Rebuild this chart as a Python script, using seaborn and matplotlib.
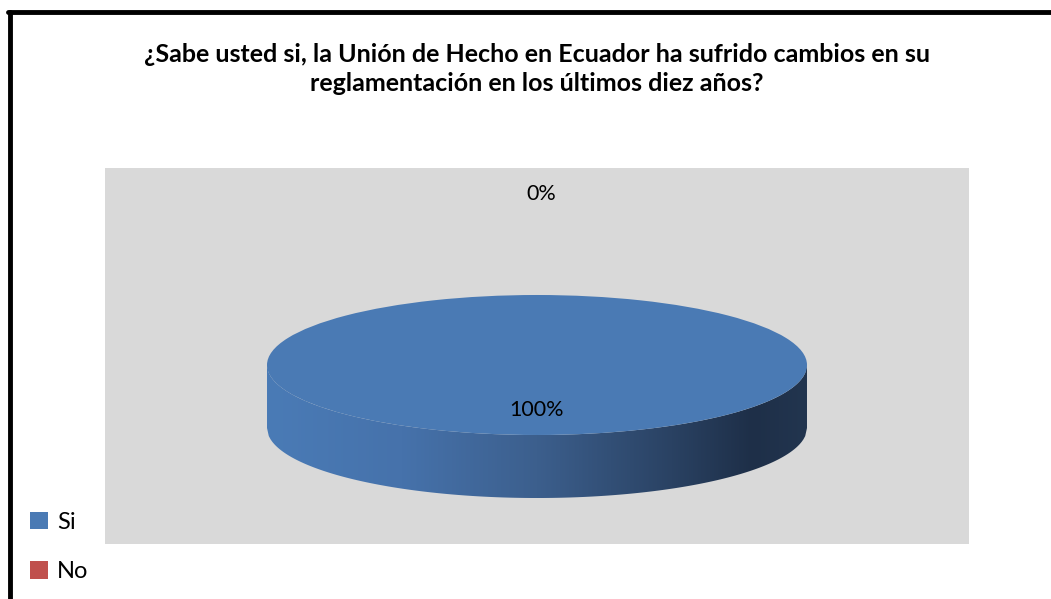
import numpy as np
import matplotlib
matplotlib.use("Agg")
import matplotlib.pyplot as plt
from matplotlib.lines import Line2D
from matplotlib.colors import LinearSegmentedColormap
from matplotlib.patches import Polygon
import seaborn as sns

# data
categories = ["Si", "No"]
values = [100, 0]
colors = ["#4a7ab4", "#c0504d"]
title = "¿Sabe usted si, la Unión de Hecho en Ecuador ha sufrido cambios en su\nreglamentación en los últimos diez años?"

sns.set_theme(style="white")
plt.rcParams["font.family"] = ["Lato", "DejaVu Sans"]
plt.rcParams["text.color"] = "black"

fig = plt.figure(figsize=(10.51, 5.99), dpi=100)
W, H = 1051, 599

# plot area (gray box) in pixels
left, right, top, bottom = 105, 969, 168, 544
ax = fig.add_axes([left / W, 1 - bottom / H, (right - left) / W, (bottom - top) / H])

wedges, _ = ax.pie(values, colors=colors, startangle=90, counterclock=False,
                   radius=1, frame=True, wedgeprops=dict(linewidth=0, zorder=3))
ax.set_aspect("auto")
ax.set_facecolor("#d9d9d9")
ax.set_xticks([])
ax.set_yticks([])
for s in ax.spines.values():
    s.set_visible(False)

# side of the cylinder with gradient
depth = 0.9
xs = np.linspace(-1, 1, 300)
top_edge = -np.sqrt(1 - xs ** 2)
poly_pts = np.concatenate([np.column_stack([xs, top_edge]),
                           np.column_stack([xs[::-1], top_edge[::-1] - depth])])
side = Polygon(poly_pts, closed=True, facecolor="none", edgecolor="none", zorder=2)
ax.add_patch(side)
grad = LinearSegmentedColormap.from_list(
    "side", [(0, "#4a7bb6"), (0.25, "#4672ab"), (0.5, "#3c5f8d"),
             (0.75, "#2a4263"), (0.9, "#1e2f48"), (1, "#22354f")])
img = ax.imshow(np.linspace(0, 1, 256).reshape(1, -1), cmap=grad, aspect="auto",
                extent=[-1, 1, -1 - depth, 0], zorder=2)
img.set_clip_path(side)
ax.set_xlim(-1.6, 1.6)
ax.set_ylim(-2.557, 2.814)

# data labels
total = sum(values)
ax.text(0, -0.64, f"{values[0] / total:.0%}", ha="center", va="center", fontsize=15.5, zorder=5)
ax.text(0.015, 2.44, f"{values[1] / total:.0%}", ha="center", va="center", fontsize=15.5, zorder=5)

# title
fig.text(537 / W, 1 - 69 / H, title, ha="center", va="center", fontsize=18,
         fontweight="bold", linespacing=1.3)

# legend
handles = [plt.Rectangle((0, 0), 1, 1, facecolor=c, edgecolor="none") for c in colors]
fig.legend(handles, categories, loc="upper left", bbox_to_anchor=(18 / W, 1 - 500 / H),
           frameon=False, fontsize=17, handlelength=0.75, handleheight=0.75,
           handletextpad=0.4, labelspacing=1.2, borderpad=0)

# outer border (top and left)
fig.add_artist(Line2D([8 / W, 1], [1 - 12 / H, 1 - 12 / H], color="black", lw=3.5))
fig.add_artist(Line2D([10 / W, 10 / W], [0, 1 - 12 / H], color="black", lw=3.5))

fig.savefig("out.png", dpi=100)
